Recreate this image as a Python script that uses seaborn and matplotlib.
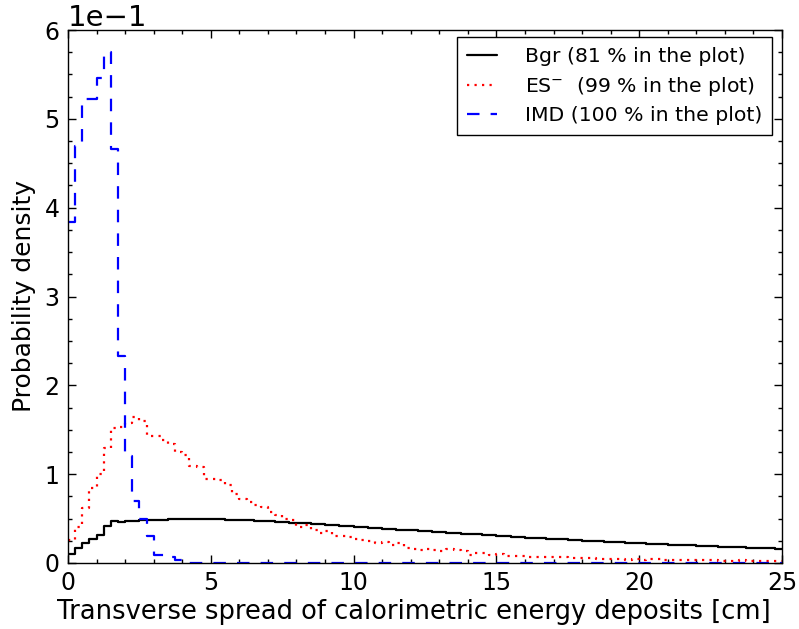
import numpy as np
import pandas as pd
import matplotlib
matplotlib.use("Agg")
import matplotlib.pyplot as plt
import seaborn as sns

# ---- data (probability density per 0.25 cm bin, 0 .. 25 cm) ----
bin_width = 0.25
x_range = (0, 25)
x_ticks = [0, 5, 10, 15, 20, 25]
y_ticks = [0.0, 0.1, 0.2, 0.3, 0.4, 0.5, 0.6]

bgr = [0.0105, 0.0169, 0.0225, 0.0270, 0.0320, 0.0420, 0.0473, 0.0457, 0.0470, 0.0475,
       0.0479, 0.0483, 0.0486, 0.0489, 0.0491, 0.0493, 0.0494, 0.0495, 0.0495, 0.0494,
       0.0492, 0.0490, 0.0488, 0.0486, 0.0483, 0.0480, 0.0477, 0.0473, 0.0469, 0.0465,
       0.0460, 0.0455, 0.0450, 0.0445, 0.0440, 0.0434, 0.0429, 0.0424, 0.0418, 0.0413,
       0.0408, 0.0403, 0.0398, 0.0392, 0.0387, 0.0382, 0.0377, 0.0372, 0.0367, 0.0362,
       0.0357, 0.0352, 0.0346, 0.0341, 0.0336, 0.0331, 0.0326, 0.0321, 0.0316, 0.0311,
       0.0306, 0.0302, 0.0297, 0.0292, 0.0287, 0.0283, 0.0278, 0.0274, 0.0270, 0.0265,
       0.0261, 0.0257, 0.0253, 0.0249, 0.0245, 0.0241, 0.0237, 0.0233, 0.0229, 0.0225,
       0.0221, 0.0218, 0.0214, 0.0211, 0.0207, 0.0204, 0.0201, 0.0198, 0.0194, 0.0191,
       0.0188, 0.0185, 0.0182, 0.0179, 0.0176, 0.0173, 0.0170, 0.0167, 0.0164, 0.0161]

es = [0.026, 0.040, 0.0615, 0.0845, 0.100, 0.129, 0.152, 0.153, 0.158, 0.164,
      0.160, 0.143, 0.143, 0.139, 0.134, 0.125, 0.122, 0.109, 0.108, 0.095,
      0.094, 0.093, 0.088, 0.078, 0.072, 0.069, 0.0656, 0.063, 0.057, 0.0545,
      0.050, 0.0488, 0.040, 0.0428, 0.037, 0.034, 0.0356, 0.030, 0.0307, 0.0296,
      0.0274, 0.0259, 0.0243, 0.0229, 0.0232, 0.020, 0.0225, 0.017, 0.0155, 0.0146,
      0.0153, 0.015, 0.0139, 0.0153, 0.0142, 0.0131, 0.0095, 0.0108, 0.0108, 0.009,
      0.0101, 0.0079, 0.0079, 0.0079, 0.0071, 0.0068, 0.0067, 0.0063, 0.0063, 0.0067,
      0.0056, 0.0052, 0.0056, 0.0056, 0.0049, 0.0041, 0.0049, 0.0049, 0.0037, 0.0041,
      0.0037, 0.0041, 0.0049, 0.0037, 0.0030, 0.0030, 0.0037, 0.0030, 0.0030, 0.0030,
      0.0030, 0.0026, 0.0026, 0.0026, 0.0034, 0.0022, 0.0022, 0.0026, 0.0024, 0.0022]

imd = [0.384, 0.469, 0.522, 0.522, 0.546, 0.575, 0.466, 0.233, 0.120, 0.070,
       0.049, 0.030, 0.009, 0.009, 0.007, 0.003, 0.002, 0.0005, 0.0, 0.0,
       0.0, 0.0, 0.0, 0.0, 0.0, 0.0, 0.0, 0.0, 0.0, 0.0,
       0.0, 0.0, 0.0, 0.0, 0.0, 0.0, 0.0, 0.0, 0.0, 0.0,
       0.0, 0.0, 0.0, 0.0, 0.0, 0.0, 0.0, 0.0, 0.0, 0.0,
       0.0, 0.0, 0.0, 0.0, 0.0, 0.0, 0.0, 0.0, 0.0, 0.0,
       0.0, 0.0, 0.0, 0.0, 0.0, 0.0, 0.0, 0.0, 0.0, 0.0,
       0.0, 0.0, 0.0, 0.0, 0.0, 0.0, 0.0, 0.0, 0.0, 0.0,
       0.0, 0.0, 0.0, 0.0, 0.0, 0.0, 0.0, 0.0, 0.0, 0.0,
       0.0, 0.0, 0.0, 0.0, 0.0, 0.0, 0.0, 0.0, 0.0, 0.0]

labels = ["Bgr (81 % in the plot)", "ES$^{-}$  (99 % in the plot)", "IMD (100 % in the plot)"]
assert len(bgr) == len(es) == len(imd) == 100

centers = x_range[0] + bin_width * (np.arange(len(bgr)) + 0.5)

# ---- style ----
sns.set_style("ticks")
plt.rcParams.update({
    "font.family": ["DejaVu Sans"],
    "text.color": "black", "axes.labelcolor": "black",
    "xtick.direction": "in", "ytick.direction": "in",
    "xtick.top": True, "ytick.right": True,
    "xtick.major.size": 6, "ytick.major.size": 6,
    "xtick.minor.size": 3, "ytick.minor.size": 3,
    "xtick.major.width": 1.0, "ytick.major.width": 1.0,
    "xtick.minor.width": 1.0, "ytick.minor.width": 1.0,
    "axes.linewidth": 1.0, "axes.edgecolor": "black",
    "xtick.color": "black", "ytick.color": "black",
    "xtick.labelcolor": "black", "ytick.labelcolor": "black",
    "lines.scale_dashes": False,
})

fig = plt.figure(figsize=(7.99, 6.29), dpi=100)
ax = fig.add_axes([68 / 799, 1 - 563 / 629, (782 - 68) / 799, (563 - 30) / 629])

series = [
    (bgr, "black", "-", labels[0]),
    (es, "red", (0, (1.6, 3.8)), labels[1]),
    (imd, "blue", (0, (9.0, 8.0)), labels[2]),
]
for vals, col, ls, lab in series:
    df = pd.DataFrame({"x": centers, "w": vals})
    sns.histplot(data=df, x="x", weights="w", binwidth=bin_width, binrange=x_range,
                 element="step", fill=False, stat="count", color=col, linestyle=ls,
                 linewidth=1.6, ax=ax, label=lab)

ax.set_xlim(*x_range)
ax.set_ylim(0, 0.6)
ax.set_xticks(x_ticks)
ax.set_yticks(y_ticks)
ax.xaxis.set_minor_locator(matplotlib.ticker.MultipleLocator(1))
ax.yaxis.set_minor_locator(matplotlib.ticker.MultipleLocator(0.025))
ax.ticklabel_format(axis="y", style="sci", scilimits=(0, 0))
ax.tick_params(axis="both", which="major", labelsize=17, pad=6)
ax.yaxis.get_offset_text().set_fontsize(21)

ax.set_xlabel("Transverse spread of calorimetric energy deposits [cm]", fontsize=18.5, labelpad=3)
ax.xaxis.set_label_coords(0.484, -0.068)
ax.set_ylabel("Probability density", fontsize=18, labelpad=6)

leg = ax.legend(loc="upper right", bbox_to_anchor=(0.986, 0.987), borderaxespad=0.0,
                fontsize=14.7, frameon=True, fancybox=False,
                edgecolor="black", framealpha=1, handlelength=1.45, handletextpad=1.35,
                labelspacing=0.42, borderpad=0.5)
leg.get_frame().set_linewidth(1.0)

fig.savefig("out.png", dpi=100)
